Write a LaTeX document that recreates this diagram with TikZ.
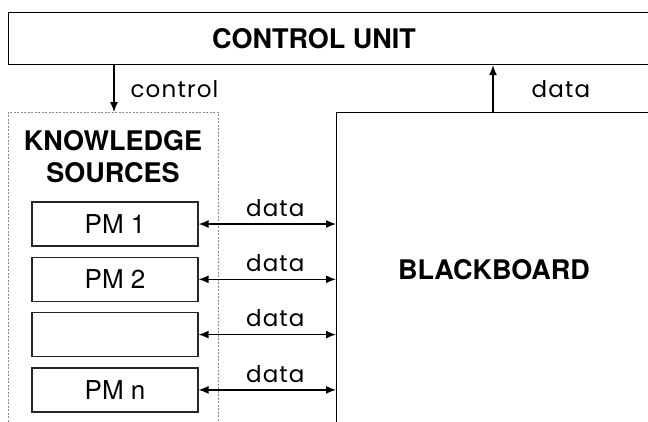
\documentclass[tikz,border=0pt]{standalone}
\usepackage{fontspec}
\setmainfont{TeX Gyre Heros}
\newfontfamily\lblfont[LetterSpace=5]{Poppins}
\usetikzlibrary{arrows.meta, positioning}

\tikzset{
  box/.style={draw, line width=1.2pt, inner sep=0pt},
  title/.style={font=\bfseries\fontsize{27}{32}\selectfont, align=center},
  lbl/.style={font=\lblfont\fontsize{23}{26}\selectfont, inner sep=2pt},
  pmbox/.style={box, draw=black!85, minimum width=166pt, minimum height=44pt, font=\fontsize{26}{30}\selectfont},
  arr/.style={-{Latex[length=10pt,width=8pt]}, line width=1.3pt},
  dblarr/.style={{Latex[length=10pt,width=8pt]}-{Latex[length=10pt,width=8pt]}, line width=1.3pt},
}

\begin{document}
\begin{tikzpicture}[x=1pt, y=-1pt]
  \path[use as bounding box, clip] (0,0) rectangle (648,421);
  % boxes
  \node[box, anchor=north west, minimum width=700pt, minimum height=52pt] (cu) at (8,12) {};
  \node[box, draw=black!45, dash pattern=on 2pt off 1.5pt, line width=0.9pt, anchor=north west, minimum width=210pt, minimum height=340pt] (ks) at (8,112) {};
  \node[box, anchor=north west, minimum width=360pt, minimum height=340pt] (bb) at (336,112) {};
  \node[title] (cutxt) at (314,39) {CONTROL UNIT};
  \node[title] (kstxt) at (113,157) {KNOWLEDGE\\SOURCES};
  \node[title] (bbtxt) at (494,270) {BLACKBOARD};
  % control and data to the control unit
  \coordinate (c) at (114,0);
  \coordinate (d) at (493,0);
  \draw[arr] (c |- cu.south) -- (c |- ks.north) node[lbl, midway, right=14pt] {control};
  \draw[arr] (d |- bb.north) -- (d |- cu.south) node[lbl, midway, right=36pt] {data};
  % processing modules
  \foreach \i/\txt in {1/PM 1, 2/PM 2, 3/{}, 4/PM n} {
    \node[pmbox] (pm\i) at (115, {224+55.3*(\i-1)}) {\txt};
    \draw[dblarr] (pm\i.east) -- (pm\i.east -| bb.west) node[lbl, midway, above=5pt, xshift=8pt] {data};
  }
\end{tikzpicture}
\end{document}
